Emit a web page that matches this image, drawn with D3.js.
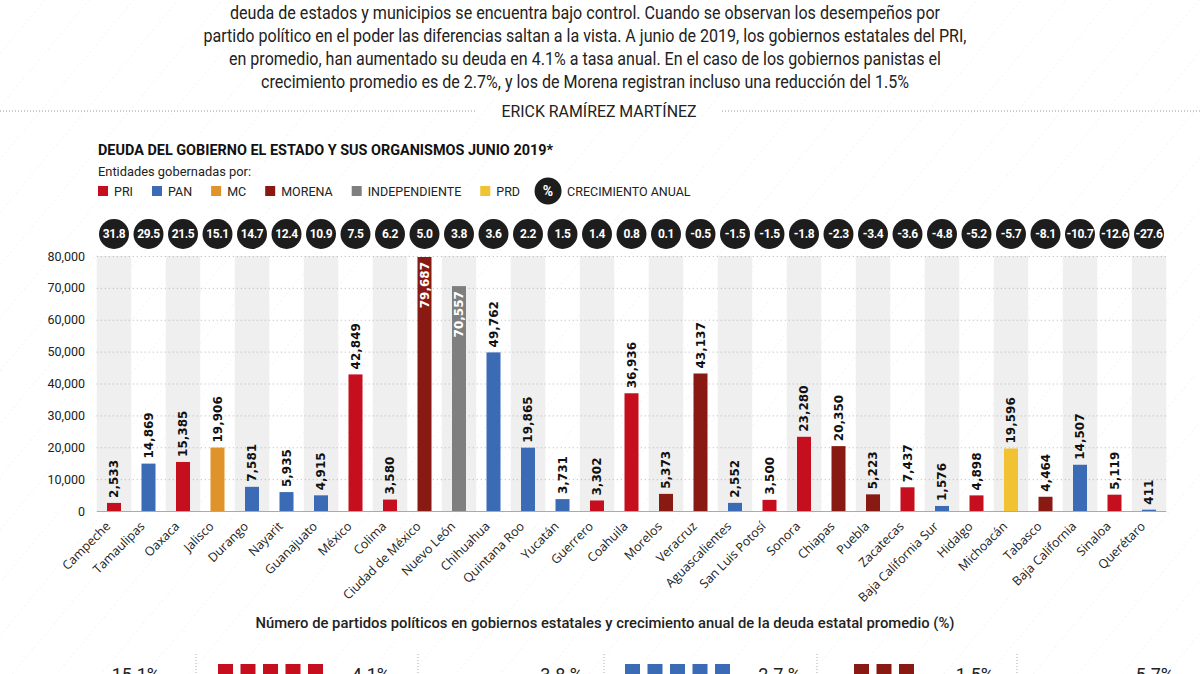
<!DOCTYPE html>
<html>
<head>
<meta charset="utf-8">
<title>Deuda estatal junio 2019</title>
<script src="https://cdn.jsdelivr.net/npm/d3@7"></script>
<style>
  body { margin: 0; background: #fff; }
  svg { display: block; font-family: Roboto, "Open Sans", sans-serif; }
</style>
</head>
<body>
<svg id="chart" width="1200" height="674"></svg>
<script>
// ---- data ----
var estados = ["Campeche","Tamaulipas","Oaxaca","Jalisco","Durango","Nayarit","Guanajuato","México","Colima",
  "Ciudad de México","Nuevo León","Chihuahua","Quintana Roo","Yucatán","Guerrero","Coahuila","Morelos","Veracruz",
  "Aguascalientes","San Luis Potosí","Sonora","Chiapas","Puebla","Zacatecas","Baja California Sur","Hidalgo",
  "Michoacán","Tabasco","Baja California","Sinaloa","Querétaro"];
var deuda = [2533,14869,15385,19906,7581,5935,4915,42849,3580,79687,70557,49762,19865,3731,3302,36936,5373,43137,
  2552,3500,23280,20350,5223,7437,1576,4898,19596,4464,14507,5119,411];
var partido = ["PRI","PAN","PRI","MC","PAN","PAN","PAN","PRI","PRI","MORENA","INDEPENDIENTE","PAN","PAN","PAN","PRI",
  "PRI","MORENA","MORENA","PAN","PRI","PRI","MORENA","MORENA","PRI","PAN","PRI","PRD","MORENA","PAN","PRI","PAN"];
var crecimiento = ["31.8","29.5","21.5","15.1","14.7","12.4","10.9","7.5","6.2","5.0","3.8","3.6","2.2","1.5","1.4","0.8",
  "0.1","-0.5","-1.5","-1.5","-1.8","-2.3","-3.4","-3.6","-4.8","-5.2","-5.7","-8.1","-10.7","-12.6","-27.6"];
var yTicks = [0,10000,20000,30000,40000,50000,60000,70000,80000];

var partidos = ["PRI","PAN","MC","MORENA","INDEPENDIENTE","PRD"];
var colores = ["#c50f1f","#3b6bb5","#e0932a","#881a13","#7f7f7f","#f1c232"];

// bottom summary
var grupoPartido = ["MC","PRI","INDEPENDIENTE","PAN","MORENA","PRD"];
var grupoEstados = [1,11,1,11,6,1];
var grupoPct = ["15.1%","4.1%","3.8 %","2.7 %","-1.5%","-5.7%"];

var intro = [
  "deuda de estados y municipios se encuentra bajo control. Cuando se observan los desempeños por",
  "partido político en el poder las diferencias saltan a la vista. A junio de 2019, los gobiernos estatales del PRI,",
  "en promedio, han aumentado su deuda en 4.1% a tasa anual. En el caso de los gobiernos panistas el",
  "crecimiento promedio es de 2.7%, y los de Morena registran incluso una reducción del 1.5%"
];

var color = d3.scaleOrdinal().domain(partidos).range(colores);
var svg = d3.select("#chart");

// faint diagonal background texture
var defs = svg.append("defs");
var pat = defs.append("pattern").attr("id", "diag").attr("width", 34).attr("height", 34)
  .attr("patternUnits", "userSpaceOnUse").attr("patternTransform", "rotate(40)");
pat.append("line").attr("x1", 0).attr("y1", 0).attr("x2", 0).attr("y2", 34)
  .attr("stroke", "#ececec").attr("stroke-width", 1).attr("stroke-dasharray", "2,3");
svg.append("rect").attr("width", 1200).attr("height", 674).attr("fill", "url(#diag)");

// ---- intro text ----
var introLen = [710, 763, 712, 648];
svg.append("g").selectAll("text").data(intro).join("text")
  .attr("x", 585).attr("y", function(d, i) { return 19 + i * 23; })
  .attr("text-anchor", "middle")
  .attr("textLength", function(d, i) { return introLen[i]; })
  .attr("lengthAdjust", "spacingAndGlyphs")
  .style("font-size", "17.5px").style("fill", "#222")
  .text(function(d) { return d; });

svg.append("line").attr("x1", 0).attr("x2", 476).attr("y1", 111).attr("y2", 111)
  .attr("stroke", "#9a9a9a").attr("stroke-dasharray", "1,2");
svg.append("line").attr("x1", 722).attr("x2", 1200).attr("y1", 111).attr("y2", 111)
  .attr("stroke", "#9a9a9a").attr("stroke-dasharray", "1,2");
svg.append("text").attr("x", 599).attr("y", 117).attr("text-anchor", "middle")
  .attr("textLength", 195).attr("lengthAdjust", "spacingAndGlyphs")
  .style("font-size", "17px").style("fill", "#222")
  .text("ERICK RAMÍREZ MARTÍNEZ");

// ---- chart title & legend ----
svg.append("text").attr("x", 98).attr("y", 155)
  .attr("textLength", 455).attr("lengthAdjust", "spacingAndGlyphs")
  .style("font-size", "14px").style("font-weight", "bold").style("fill", "#111")
  .text("DEUDA DEL GOBIERNO EL ESTADO Y SUS ORGANISMOS JUNIO 2019*");
svg.append("text").attr("x", 98).attr("y", 176)
  .attr("textLength", 153).attr("lengthAdjust", "spacingAndGlyphs")
  .style("font-size", "13px").style("fill", "#222")
  .text("Entidades gobernadas por:");

var leg = svg.append("g").attr("transform", "translate(0,191)");
var lx = 98;
partidos.forEach(function(p) {
  leg.append("rect").attr("x", lx).attr("y", -5).attr("width", 10).attr("height", 10).attr("fill", color(p));
  var t = leg.append("text").attr("x", lx + 16).attr("y", 0).attr("dy", "0.36em")
    .style("font-size", "12.5px").style("fill", "#222").text(p);
  lx = lx + 16 + t.node().getComputedTextLength() + 19;
});
leg.append("circle").attr("cx", lx + 9).attr("cy", 0).attr("r", 13.5).attr("fill", "#1d1d1d");
leg.append("text").attr("x", lx + 9).attr("y", 0).attr("dy", "0.36em").attr("text-anchor", "middle")
  .style("font-size", "14px").style("font-weight", "bold").style("fill", "#fff").text("%");
leg.append("text").attr("x", lx + 28).attr("y", 0).attr("dy", "0.36em")
  .style("font-size", "12.5px").style("fill", "#222").text("CRECIMIENTO ANUAL");

// ---- scales ----
var x = d3.scaleBand().domain(estados).range([96.75, 1166.25]).padding(0);
var y = d3.scaleLinear().domain([0, 80000]).range([511, 256]);
var bw = 14;
function cx(d) { return x(d) + x.bandwidth() / 2; }

var plot = svg.append("g");

// alternating gray columns
plot.selectAll("rect.band").data(estados.filter(function(d, i) { return i % 2 === 0; })).join("rect")
  .attr("class", "band")
  .attr("x", function(d) { return x(d); }).attr("width", x.bandwidth())
  .attr("y", y(80000)).attr("height", y(0) - y(80000))
  .attr("fill", "#efefef");

// dotted grid
plot.selectAll("line.grid").data(yTicks.slice(1)).join("line")
  .attr("class", "grid")
  .attr("x1", 96.75).attr("x2", 1166.25)
  .attr("y1", function(d) { return y(d) + 0.5; }).attr("y2", function(d) { return y(d) + 0.5; })
  .attr("stroke", "#b5b5b5").attr("stroke-dasharray", "1,3");

// y axis
var yAxis = plot.append("g").attr("transform", "translate(88,0)")
  .call(d3.axisLeft(y).tickValues(yTicks).tickFormat(d3.format(",")).tickSize(0).tickPadding(3));
yAxis.select(".domain").remove();
yAxis.selectAll("text").style("font-size", "12.5px").style("fill", "#222").style("font-family", "Roboto, sans-serif");

// bars
plot.selectAll("rect.bar").data(estados).join("rect")
  .attr("class", "bar")
  .attr("x", function(d) { return cx(d) - bw / 2; })
  .attr("width", bw)
  .attr("y", function(d, i) { return y(deuda[i]); })
  .attr("height", function(d, i) { return y(0) - y(deuda[i]); })
  .attr("fill", function(d, i) { return color(partido[i]); });

// baseline
plot.append("line").attr("x1", 96.75).attr("x2", 1166.25).attr("y1", 511.5).attr("y2", 511.5)
  .attr("stroke", "#aaa").attr("stroke-width", 1);

// value labels (tall bars get the label inside, in white)
var fmt = d3.format(",");
function inside(i) { return y(deuda[i]) - 55 < y(80000); }
plot.selectAll("text.val").data(estados).join("text")
  .attr("class", "val")
  .attr("transform", function(d, i) {
    var top = y(deuda[i]);
    return "translate(" + cx(d) + "," + (inside(i) ? top + 5 : top - 5) + ") rotate(-90)";
  })
  .attr("dy", "0.36em")
  .attr("text-anchor", function(d, i) { return inside(i) ? "end" : "start"; })
  .style("font-family", "'DejaVu Sans', sans-serif")
  .style("font-size", "12px").style("font-weight", "bold")
  .style("fill", function(d, i) { return inside(i) ? "#fff" : "#111"; })
  .text(function(d, i) { return fmt(deuda[i]); });

// x axis labels
var xAxis = plot.append("g").attr("transform", "translate(0,511)")
  .call(d3.axisBottom(x).tickSize(0).tickPadding(0));
xAxis.select(".domain").remove();
xAxis.selectAll("text")
  .attr("text-anchor", "end")
  .attr("x", 0).attr("y", 0).attr("dy", "0.35em")
  .attr("transform", "translate(-6,13) rotate(-45)")
  .style("font-size", "12.5px").style("fill", "#222").style("font-family", "'Open Sans', sans-serif");

// growth circles
var circ = plot.selectAll("g.circ").data(estados).join("g")
  .attr("class", "circ")
  .attr("transform", function(d) { return "translate(" + cx(d) + ",234)"; });
circ.append("circle").attr("r", 15).attr("fill", "#1d1d1d");
circ.append("text").attr("text-anchor", "middle").attr("dy", "0.36em")
  .style("font-size", "12px").style("font-weight", "bold").style("fill", "#fff")
  .style("letter-spacing", "-0.4px")
  .text(function(d, i) { return crecimiento[i]; });

// ---- bottom summary ----
svg.append("text").attr("x", 605).attr("y", 628).attr("text-anchor", "middle")
  .attr("textLength", 699).attr("lengthAdjust", "spacingAndGlyphs")
  .style("font-size", "15px").style("font-weight", "500").style("fill", "#222")
  .text("Número de partidos políticos en gobiernos estatales y crecimiento anual de la deuda estatal promedio (%)");

var sepX = [196, 418, 604, 817, 1017];
svg.selectAll("line.sep").data(sepX).join("line")
  .attr("class", "sep")
  .attr("x1", function(d) { return d; }).attr("x2", function(d) { return d; })
  .attr("y1", 654).attr("y2", 674)
  .attr("stroke", "#aaa").attr("stroke-dasharray", "1,2");

var sqStart = [100, 218, 440, 625, 854, 1040];
var pctEnd = [160, 390, 583, 801, 994, 1174];
grupoPartido.forEach(function(p, g) {
  var n = grupoEstados[g];
  var cols = n > 6 ? 5 : (n > 1 ? 3 : 1);
  var top = n > 1 ? 664 : 684;
  d3.range(n).forEach(function(k) {
    svg.append("rect")
      .attr("x", sqStart[g] + (k % cols) * 22.5)
      .attr("y", top + Math.floor(k / cols) * 22.5)
      .attr("width", 15).attr("height", 15)
      .attr("fill", color(p));
  });
  svg.append("text").attr("x", pctEnd[g]).attr("y", 681).attr("text-anchor", "end")
    .style("font-size", "18px").style("fill", "#222").text(grupoPct[g]);
});
</script>
</body>
</html>
